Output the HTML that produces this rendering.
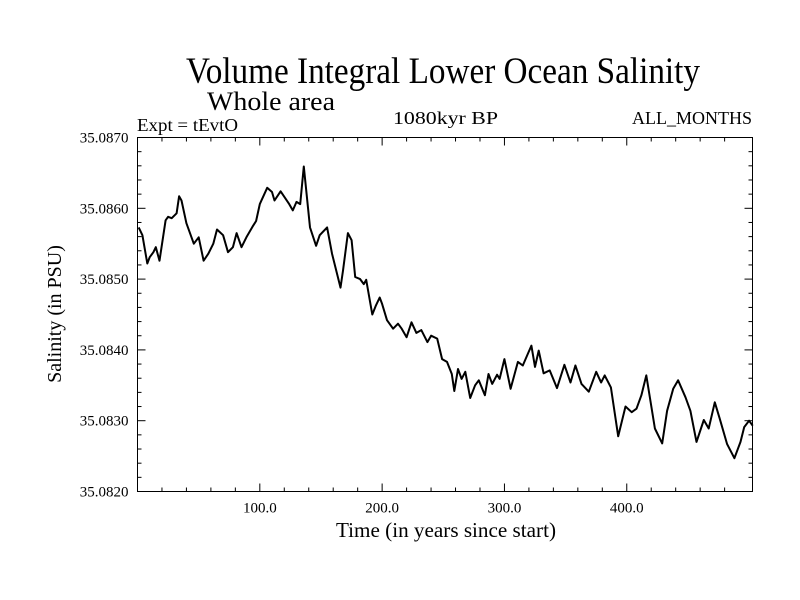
<!DOCTYPE html>
<html><head><meta charset="utf-8"><style>
body{margin:0;background:#fff}
svg{display:block;font-family:"Liberation Serif",serif}
</style></head><body>
<svg id="chart" width="800" height="600" viewBox="0 0 800 600">
<rect width="800" height="600" fill="#fff"/>
<text x="186" y="83" font-size="37" textLength="514" lengthAdjust="spacingAndGlyphs">Volume Integral Lower Ocean Salinity</text>
<text x="207" y="110" font-size="26" textLength="128" lengthAdjust="spacingAndGlyphs">Whole area</text>
<text x="137" y="131" font-size="18" textLength="101" lengthAdjust="spacingAndGlyphs">Expt = tEvtO</text>
<text x="393" y="124" font-size="18" textLength="105" lengthAdjust="spacingAndGlyphs">1080kyr BP</text>
<text x="632" y="124" font-size="18" textLength="120" lengthAdjust="spacingAndGlyphs">ALL_MONTHS</text>
<text x="336" y="537" font-size="21" textLength="220" lengthAdjust="spacingAndGlyphs">Time (in years since start)</text>
<text transform="translate(61,314) rotate(-90)" font-size="20" text-anchor="middle">Salinity (in PSU)</text>
<g id="axes"></g>
<path id="series" fill="none" stroke="#000" stroke-width="2" stroke-linejoin="round"/>
<rect x="137.5" y="137.5" width="615" height="354" fill="none" stroke="#000" stroke-width="1"/>
</svg>
<script>
const years = [1,4,8,10,13,15,18,23,25,28,32,34,36,40,46,50,54,58,62,65,70,74,78,81,85,89,94,97,100,106,110,112,117,124,127,130,133,136,141,146,149,155,159,166,168,172,175,178,182,185,187,192,195,198,200,204,209,213,216,220,224,228,232,237,240,245,249,253,257,259,262,265,268,272,276,279,284,287,290,294,296,300,305,311,315,319,322,325,328,332,337,343,349,354,358,363,369,375,379,382,387,393,399,404,408,412,416,423,429,433,438,442,448,452,457,463,467,472,476,482,488,493,496,500,503];
const salinity = [35.08573,35.08562,35.08522,35.08531,35.08538,35.08545,35.08526,35.08583,35.08588,35.08586,35.08593,35.08617,35.08611,35.08579,35.08550,35.08559,35.08526,35.08536,35.08550,35.08570,35.08562,35.08538,35.08545,35.08565,35.08545,35.08559,35.08574,35.08582,35.08606,35.08629,35.08623,35.08611,35.08624,35.08606,35.08597,35.08609,35.08606,35.08659,35.08573,35.08547,35.08562,35.08573,35.08536,35.08488,35.08512,35.08565,35.08555,35.08503,35.08500,35.08493,35.08499,35.08450,35.08463,35.08474,35.08465,35.08442,35.08430,35.08437,35.08430,35.08418,35.08439,35.08424,35.08428,35.08411,35.08420,35.08416,35.08387,35.08383,35.08366,35.08342,35.08373,35.08359,35.08369,35.08332,35.08350,35.08357,35.08336,35.08366,35.08352,35.08365,35.08359,35.08387,35.08345,35.08383,35.08378,35.08394,35.08406,35.08376,35.08399,35.08367,35.08371,35.08346,35.08379,35.08354,35.08378,35.08352,35.08341,35.08369,35.08354,35.08364,35.08347,35.08278,35.08320,35.08312,35.08317,35.08336,35.08364,35.08289,35.08268,35.08314,35.08345,35.08357,35.08333,35.08314,35.08270,35.08301,35.08289,35.08326,35.08303,35.08267,35.08247,35.08270,35.08291,35.08300,35.08293];
const xTicks = [100,200,300,400];
const xTickLabels = ["100.0","200.0","300.0","400.0"];
const yTicks = [35.082,35.083,35.084,35.085,35.086,35.087];
const yTickLabels = ["35.0820","35.0830","35.0840","35.0850","35.0860","35.0870"];

const X0=137.5,X1=752.5,Y0=491.5,Y1=137.5;
const xMin=0,xMax=502.8,yMin=35.082,yMax=35.087;
const xs=v=>X0+(v-xMin)/(xMax-xMin)*(X1-X0);
const ys=v=>Y0-(v-yMin)/(yMax-yMin)*(Y0-Y1);
const NS="http://www.w3.org/2000/svg";
const axes=document.getElementById('axes');
function line(x1,y1,x2,y2,name){const l=document.createElementNS(NS,'line');
l.setAttribute('x1',x1);l.setAttribute('y1',y1);l.setAttribute('x2',x2);l.setAttribute('y2',y2);
l.setAttribute('stroke','#000');l.setAttribute('stroke-width','1');


axes.appendChild(l);}
function text(x,y,s,anchor,name){const t=document.createElementNS(NS,'text');
t.setAttribute('x',x);t.setAttribute('y',y);t.setAttribute('font-size','15');t.setAttribute('text-anchor',anchor);t.textContent=s;


axes.appendChild(t);}
xTicks.forEach((v,i)=>{const x=xs(v);line(x,Y0,x,Y0-8,'x-tick');line(x,Y1,x,Y1+8,'x-tick-top');text(x,Y0+21,xTickLabels[i],'middle','x-tick-label');});
for(let v=20;v<xMax;v+=20){if(v%100){const x=xs(v);line(x,Y0,x,Y0-4,'x-minor-tick');line(x,Y1,x,Y1+4,'x-minor-tick-top');}}
yTicks.forEach((v,i)=>{const y=ys(v);line(X0,y,X0+8,y,'y-tick');line(X1,y,X1-8,y,'y-tick-right');text(X0-9,y+5,yTickLabels[i],'end','y-tick-label');});
for(let k=1;k<25;k++){if(k%5){const y=ys(yMin+k*0.0002);line(X0,y,X0+4,y,'y-minor-tick');line(X1,y,X1-4,y,'y-minor-tick-right');}}
document.getElementById('series').setAttribute('d',years.map((v,i)=>(i?'L':'M')+xs(v).toFixed(1)+','+ys(salinity[i]).toFixed(1)).join(''));
</script>
</body></html>
